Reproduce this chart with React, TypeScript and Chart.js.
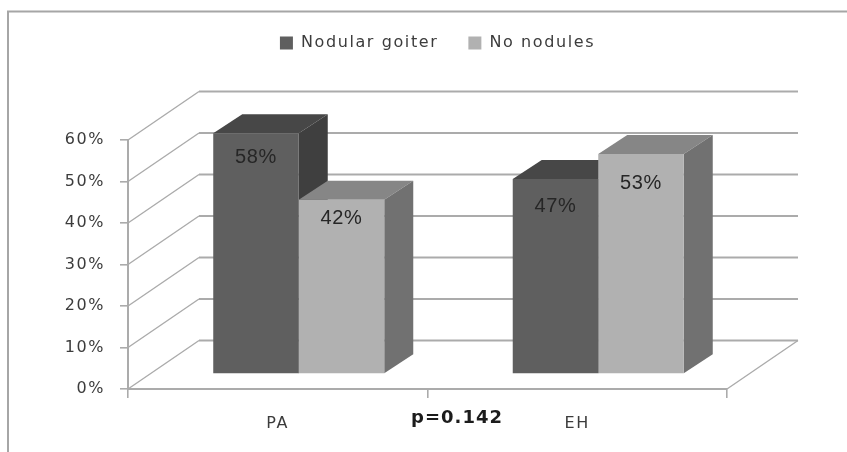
import React, { useEffect, useRef } from "react";
import { Chart, registerables } from "chart.js";

Chart.register(...registerables);

const categories = ["PA", "EH"];
const seriesNames = ["Nodular goiter", "No nodules"];
const nodularGoiter = [58, 47];
const noNodules = [42, 53];
const labelDrops = [[24, 28], [19, 29]];
const annotation = "p=0.142";

const frontColors = ["#5f5f5f", "#b1b1b1"];
const topColors = ["#474747", "#868686"];
const sideColors = ["#3f3f3f", "#717171"];
const GRID = "#ababab";
const TEXT = "#3c3c3c";
const WALL_DX = 71, WALL_DY = 48.5;
const BAR_DX = 21, BAR_DY = 15;
const DEPTH_DX = 29, DEPTH_DY = 19;
const SPACING = "1.6px";

const poly = (ctx: CanvasRenderingContext2D, pts: number[][], fill: string) => {
  ctx.beginPath();
  pts.forEach((p, i) => (i ? ctx.lineTo(p[0], p[1]) : ctx.moveTo(p[0], p[1])));
  ctx.closePath();
  ctx.fillStyle = fill;
  ctx.fill();
};

const scene = {
  id: "scene",
  beforeLayout(chart: any) {
    chart.ctx.letterSpacing = SPACING;
  },
  afterLayout(chart: any) {
    const l = chart.legend;
    l.left += 74; l.right += 74;
    l.top -= 79; l.bottom -= 79;
  },
  beforeDraw(chart: any) {
    const { ctx } = chart;
    ctx.letterSpacing = SPACING;
    ctx.save();
    ctx.strokeStyle = "#a6a6a6";
    ctx.lineWidth = 2;
    ctx.beginPath();
    ctx.moveTo(847, 11.5);
    ctx.lineTo(8, 11.5);
    ctx.lineTo(8, 452);
    ctx.stroke();
    ctx.restore();
  },
  beforeDatasetsDraw(chart: any) {
    const { ctx, scales, chartArea } = chart;
    const y = scales.y;
    ctx.save();
    ctx.strokeStyle = GRID;
    y.ticks.forEach((t: any) => {
      const py = y.getPixelForValue(t.value);
      ctx.lineWidth = 1.4;
      ctx.beginPath();
      ctx.moveTo(chartArea.left, py);
      ctx.lineTo(chartArea.left + WALL_DX, py - WALL_DY);
      ctx.stroke();
      ctx.lineWidth = 2;
      ctx.beginPath();
      ctx.moveTo(chartArea.left + WALL_DX, py - WALL_DY);
      ctx.lineTo(chartArea.right + WALL_DX, py - WALL_DY);
      ctx.stroke();
    });
    ctx.lineWidth = 1.4;
    ctx.beginPath();
    ctx.moveTo(chartArea.right, chartArea.bottom);
    ctx.lineTo(chartArea.right + WALL_DX, chartArea.bottom - WALL_DY);
    ctx.stroke();
    ctx.restore();

    ctx.save();
    ctx.translate(BAR_DX, -BAR_DY);
    [0, 1].forEach((d) => {
      chart.getDatasetMeta(d).data.forEach((el: any) => {
        const { x, y: top, base, width } = el.getProps(["x", "y", "base", "width"], true);
        const l = x - width / 2, r = x + width / 2;
        poly(ctx, [[l, top], [r, top], [r + DEPTH_DX, top - DEPTH_DY], [l + DEPTH_DX, top - DEPTH_DY]], topColors[d]);
        poly(ctx, [[r, top], [r + DEPTH_DX, top - DEPTH_DY], [r + DEPTH_DX, base - DEPTH_DY], [r, base]], sideColors[d]);
      });
    });
  },
  afterDatasetsDraw(chart: any) {
    const { ctx } = chart;
    ctx.letterSpacing = "0.6px";
    ctx.font = '20px "Liberation Sans"';
    ctx.fillStyle = "#262626";
    ctx.textAlign = "center";
    ctx.textBaseline = "middle";
    [0, 1].forEach((d) => {
      chart.getDatasetMeta(d).data.forEach((el: any, i: number) => {
        const value = chart.data.datasets[d].data[i];
        ctx.fillText(`${value}%`, el.x, el.y + labelDrops[d][i]);
      });
    });
    ctx.restore();

    ctx.save();
    ctx.letterSpacing = "1px";
    ctx.font = 'bold 18px "DejaVu Sans"';
    ctx.fillStyle = "#1c1c1c";
    ctx.textAlign = "center";
    ctx.textBaseline = "middle";
    ctx.fillText(annotation, 457, 418);
    ctx.restore();
    ctx.letterSpacing = SPACING;
  },
};

export default function App() {
  const ref = useRef<HTMLCanvasElement>(null);
  useEffect(() => {
    const chart = new Chart(ref.current!, {
      type: "bar",
      data: {
        labels: categories,
        datasets: [
          { label: seriesNames[0], data: nodularGoiter, backgroundColor: frontColors[0], clip: false } as any,
          { label: seriesNames[1], data: noNodules, backgroundColor: frontColors[1], clip: false } as any,
        ],
      },
      options: {
        responsive: false,
        animation: false,
        devicePixelRatio: 1,
        layout: { padding: { top: 84, right: 120, left: 0, bottom: 0 } },
        datasets: { bar: { categoryPercentage: 0.571, barPercentage: 1 } },
        plugins: {
          tooltip: { enabled: false },
          legend: {
            position: "top",
            labels: {
              boxWidth: 13,
              boxHeight: 13,
              padding: 30,
              color: TEXT,
              font: { family: '"DejaVu Sans"', size: 16 },
            },
          },
        },
        scales: {
          x: {
            afterFit: (s: any) => { s.height = 63; },
            grid: { color: GRID, lineWidth: 1.6, tickLength: 9, drawOnChartArea: false },
            border: { color: GRID, width: 2 },
            ticks: { color: TEXT, padding: 16, font: { family: '"DejaVu Sans"', size: 16 } },
          },
          y: {
            min: 0,
            max: 60,
            afterFit: (s: any) => { s.width = 128; },
            grid: { color: GRID, lineWidth: 1.6, tickLength: 8, drawOnChartArea: false },
            border: { color: GRID, width: 2 },
            ticks: {
              stepSize: 10,
              color: TEXT,
              padding: 15,
              font: { family: '"DejaVu Sans"', size: 16 },
              callback: (v: any) => `${v}%`,
            },
          },
        },
      },
      plugins: [scene],
    } as any);
    return () => chart.destroy();
  }, []);
  return (
    <canvas
      ref={ref}
      width={847}
      height={452}
      style={{ position: "absolute", left: 0, top: 0, background: "#fff", filter: "blur(0.5px)" }}
    />
  );
}
